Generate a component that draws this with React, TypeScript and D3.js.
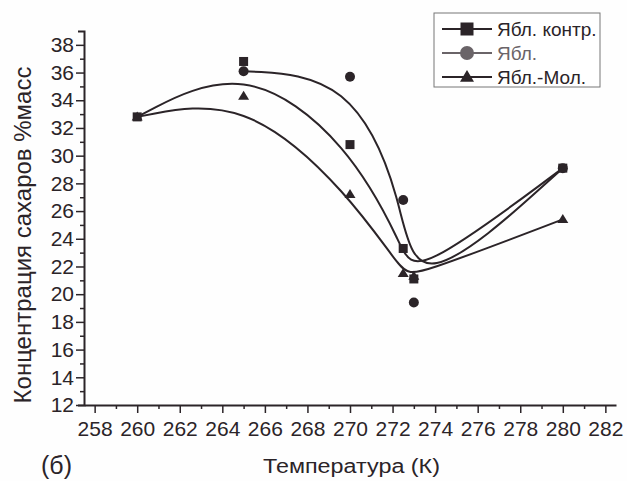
import React, { useEffect, useRef } from "react"
import * as d3 from "d3"

// temperatures (K) and sugar concentration (% mass)
const temps = [260, 265, 270, 272.5, 273, 280]
const controlValues = [32.8, 36.8, 30.8, 23.3, 21.1, 29.1]
const appleValues = [null, 36.1, 35.7, 26.8, 19.4, 29.1]
const appleMilkValues = [32.8, 34.3, 27.2, 21.5, 21.3, 25.4]
const seriesNames = ["Ябл. контр.", "Ябл.", "Ябл.-Мол."]

const xTicks = [258, 260, 262, 264, 266, 268, 270, 272, 274, 276, 278, 280, 282]
const xMinor = [259, 261, 263, 265, 267, 269, 271, 273, 275, 277, 279, 281]
const yTicks = [12, 14, 16, 18, 20, 22, 24, 26, 28, 30, 32, 34, 36, 38]
const yMinor = [13, 15, 17, 19, 21, 23, 25, 27, 29, 31, 33, 35, 37]

const W = 627
const H = 481
const ink = "#2b2428"
const font = "'Liberation Sans', Arial, sans-serif"

const App = () => {
  const axesRef = useRef<SVGGElement>(null)

  const x = d3.scaleLinear().domain([257.5, 282.5]).range([84, 616])
  const y = d3.scaleLinear().domain([12, 39]).range([405, 31])

  useEffect(() => {
    const g = d3.select(axesRef.current)
    g.selectAll("*").remove()

    const xg = g.append("g").attr("transform", "translate(0,405)")
    xg.call(d3.axisBottom(x).tickValues(xTicks).tickSize(8).tickSizeOuter(0).tickPadding(8).tickFormat(d3.format("d")))
    const xm = g.append("g").attr("transform", "translate(0,405)")
    xm.call(d3.axisBottom(x).tickValues(xMinor).tickSize(4).tickFormat(() => ""))
    xm.select(".domain").remove()

    const yg = g.append("g").attr("transform", "translate(84,0)")
    yg.call(d3.axisLeft(y).tickValues(yTicks).tickSize(8).tickSizeOuter(6).tickPadding(2))
    const ym = g.append("g").attr("transform", "translate(84,0)")
    ym.call(d3.axisLeft(y).tickValues(yMinor).tickSize(4).tickFormat(() => ""))
    ym.select(".domain").remove()

    g.selectAll(".domain").attr("stroke", ink).attr("stroke-width", 2)
    g.selectAll(".tick line").attr("stroke", ink).attr("stroke-width", 1.5)
    g.selectAll(".tick text")
      .attr("fill", ink)
      .style("font-family", font)
      .style("font-size", "21px")
  })

  const series = [controlValues, appleValues, appleMilkValues].map((vals, i) => ({
    name: seriesNames[i],
    points: temps.map((t, j) => ({ t, v: vals[j] })).filter((p) => p.v !== null) as { t: number; v: number }[],
  }))

  const line = d3
    .line<{ t: number; v: number }>()
    .x((d) => x(d.t))
    .y((d) => y(d.v))
    .curve(d3.curveBasis)

  const marker = (kind: number, cx: number, cy: number, s: number, color: string, key?: string) => {
    if (kind === 0)
      return <rect key={key} x={cx - s / 2} y={cy - s / 2} width={s} height={s} fill={color} />
    if (kind === 1) return <circle key={key} cx={cx} cy={cy} r={s / 2 + 0.5} fill={color} />
    const h = s * 0.9
    return (
      <path
        key={key}
        d={`M${cx},${cy - h * 0.6}L${cx + s / 2 + 0.5},${cy + h * 0.4}L${cx - s / 2 - 0.5},${cy + h * 0.4}Z`}
        fill={color}
      />
    )
  }

  const legendX = 434
  const legendY = 13

  return (
    <svg width={W} height={H} style={{ position: "absolute", left: 0, top: 0, background: "#fff" }}>
      <rect width={W} height={H} fill="#fefefe" />
      {series.map((s) => (
        <path key={s.name} d={line(s.points) || ""} fill="none" stroke={ink} strokeWidth={2} />
      ))}
      {series.map((s, i) => (
        <g key={s.name + "m"}>
          {s.points.map((p, j) => marker(i, x(p.t), y(p.v), i === 2 ? 10 : 9, ink, `${i}-${j}`))}
        </g>
      ))}
      <g ref={axesRef} />

      <rect x={legendX} y={legendY} width={166} height={74} fill="#fff" stroke="#777" strokeWidth={1} />
      {seriesNames.map((name, i) => {
        const cy = legendY + 16 + i * 24
        const c = i === 1 ? "#6a6468" : ink
        return (
          <g key={name}>
            <line x1={legendX + 8} x2={legendX + 58} y1={cy} y2={cy} stroke={c} strokeWidth={2} />
            {marker(i, legendX + 33, cy, 13, c)}
            <text x={legendX + 63} y={cy + 6.5} fill={c} style={{ fontFamily: font, fontSize: 19 }}>
              {name}
            </text>
          </g>
        )
      })}

      <text
        x={263}
        y={473}
        textLength={177}
        lengthAdjust="spacingAndGlyphs"
        fill={ink}
        style={{ fontFamily: font, fontSize: 20 }}
      >
        Температура (К)
      </text>
      <text
        transform="translate(31,235) rotate(-90)"
        textAnchor="middle"
        fill={ink}
        style={{ fontFamily: font, fontSize: 24 }}
      >
        Концентрация сахаров %масс
      </text>
      <text x={41} y={474} fill={ink} style={{ fontFamily: font, fontSize: 25 }}>
        (б)
      </text>
    </svg>
  )
}

export default App
